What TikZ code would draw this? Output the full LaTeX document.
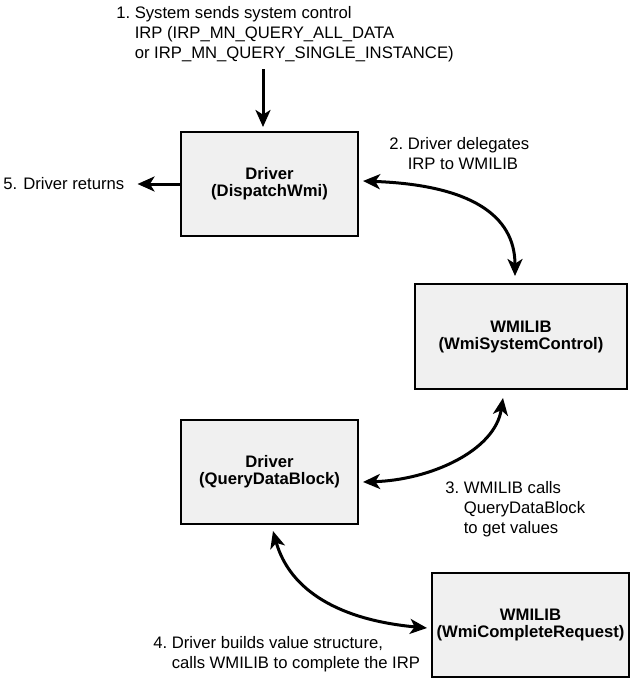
\documentclass[tikz,border=0pt]{standalone}
\usepackage{fontspec}
\setmainfont{Liberation Sans}
\usetikzlibrary{arrows.meta,calc}
\definecolor{boxfill}{HTML}{F0F0F0}
\tikzset{
  box/.style={draw=black, line width=1.5pt, fill=boxfill, align=center,
    font=\fontsize{12.5}{12.75}\selectfont\bfseries, inner sep=0pt},
  lbl/.style={inner sep=0pt, font=\fontsize{12.5}{15}\selectfont},
  tip/.tip={Stealth[length=12.75pt,width=11.25pt,inset=3.5pt]},
  conn/.style={line width=2.25pt, -tip},
  bconn/.style={line width=2.25pt, tip-tip},
}
\begin{document}
\begin{tikzpicture}[x=0.75pt,y=-0.75pt]
\useasboundingbox (0,0) rectangle (631,678);
% boxes
\node[box, minimum width=132.75pt, minimum height=78pt] (b1) at (269.5,184) {Driver\\(DispatchWmi)};
\node[box, minimum width=159pt, minimum height=78.75pt] (b2) at (521,336.5) {WMILIB\\(WmiSystemControl)};
\node[box, minimum width=132.75pt, minimum height=78pt] (b3) at (269.5,472) {Driver\\(QueryDataBlock)};
\node[box, minimum width=147.75pt, minimum height=78pt] (b4) at (530.5,625) {WMILIB\\(WmiCompleteRequest)};
% labels
\node[lbl, anchor=base west] (t1) at (116,18.6) {\begin{tabular}[t]{@{}l@{\ }l@{}}1. & System sends system control\\ & IRP (IRP\_MN\_QUERY\_ALL\_DATA\\ & or IRP\_MN\_QUERY\_SINGLE\_INSTANCE)\end{tabular}};
\node[lbl, anchor=base west] (t2) at (389,149) {\begin{tabular}[t]{@{}l@{\ }l@{}}2. & Driver delegates\\ & IRP to WMILIB\end{tabular}};
\node[lbl, anchor=base west] (t3) at (445,493) {\begin{tabular}[t]{@{}l@{\ }l@{}}3. & WMILIB calls\\ & QueryDataBlock\\ & to get values\end{tabular}};
\node[lbl, anchor=base west] (t4) at (153,648) {\begin{tabular}[t]{@{}l@{\ }l@{}}4. & Driver builds value structure,\\ & calls WMILIB to complete the IRP\end{tabular}};
\node[lbl, anchor=west] (t5) at (3,184) {5. Driver returns};
% connectors
\coordinate (c1) at (263,69);
\draw[conn, shorten >=3pt] (c1) -- (c1 |- b1.north);
\draw[conn, shorten >=9.75pt] (b1.west) -- (t5.east);
\draw[bconn] ($(b1.east)+(4,-3)$) .. controls +(107,4) and +(0,-61) .. ($(b2.north)+(-6,-7)$);
\draw[bconn] ($(b2.south)+(-18,8)$) .. controls +(-8,53) and +(67,-2) .. ($(b3.east)+(4,10)$);
\draw[bconn] ($(b3.south)+(3.5,6)$) .. controls +(17,60) and +(-87,-8) .. ($(b4.west)+(-4,3)$);
\end{tikzpicture}
\end{document}
